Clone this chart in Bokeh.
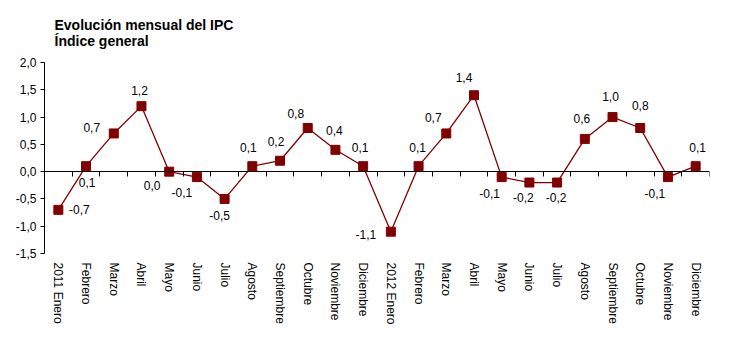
from bokeh.plotting import figure
from bokeh.models import (Range1d, FixedTicker, LinearAxis, CustomJSTickFormatter,
                          ColumnDataSource)
from bokeh.core.properties import value
from bokeh.embed import file_html
from bokeh.resources import INLINE

# ---- data ----
months = ["2011 Enero", "Febrero", "Marzo", "Abril", "Mayo", "Junio", "Julio",
          "Agosto", "Septiembre", "Octubre", "Noviembre", "Diciembre",
          "2012 Enero", "Febrero", "Marzo", "Abril", "Mayo", "Junio", "Julio",
          "Agosto", "Septiembre", "Octubre", "Noviembre", "Diciembre"]
ipc = [-0.7, 0.1, 0.7, 1.2, 0.0, -0.1, -0.5, 0.1, 0.2, 0.8, 0.4, 0.1,
       -1.1, 0.1, 0.7, 1.4, -0.1, -0.2, -0.2, 0.6, 1.0, 0.8, -0.1, 0.1]
y_ticks = [-1.5, -1.0, -0.5, 0.0, 0.5, 1.0, 1.5, 2.0]
title_lines = ["Evolución mensual del IPC", "Índice general"]

# ---- data-label placement (screen px offsets, style only) ----
label_dx = [21, 1, -22, -2, -17, -15, -5, -4, -4, -12, -1, -3,
            -25, -1, -13, -10, -12, -6, -1, -3, -2, 0, -13, 2]
label_dy = [0, 16, -6, -16, 14, 15, 17, -19, -19, -14, -19, -19,
            3, -19, -16, -18, 16, 15, 15, -20, -21, -22, 16, -19]

FONT = "Liberation Sans"
RED = "#800000"

xs = list(range(len(ipc)))
src = ColumnDataSource(dict(
    x=xs, y=ipc,
    lbl=[f"{v:.1f}".replace(".", ",") for v in ipc],
    dx=label_dx, dy=label_dy,
))

p = figure(width=743, height=350, output_backend="svg", toolbar_location=None,
           x_range=Range1d(-0.5, len(ipc) - 0.5), y_range=Range1d(y_ticks[0], y_ticks[-1]),
           min_border_left=44, min_border_right=34, min_border_bottom=97,
           min_border_top=62)
p.outline_line_color = None
p.grid.visible = False
p.background_fill_color = "white"
p.border_fill_color = "white"

# title (two lines)
p.title.text = "\n".join(title_lines)
p.title.align = "left"
p.title.offset = 10
p.title.standoff = 27
p.title.text_font = FONT
p.title.text_font_size = "14px"
p.title.text_font_style = "bold"
p.title.text_color = "#000000"
p.title.text_line_height = 1.0

# y axis
ya = p.yaxis[0]
ya.ticker = FixedTicker(ticks=y_ticks)
ya.formatter = CustomJSTickFormatter(code="return tick.toFixed(1).replace('.', ',');")
ya.major_tick_in = 0
ya.major_tick_out = 4
ya.minor_tick_line_color = None
ya.axis_line_color = "black"
ya.major_tick_line_color = "black"
ya.major_label_text_font = FONT
ya.major_label_text_font_size = "12px"
ya.major_label_text_color = "#000000"
ya.major_label_standoff = 4

# bottom month labels
xa = p.xaxis[0]
xa.ticker = FixedTicker(ticks=xs)
xa.formatter = CustomJSTickFormatter(args=dict(labels=months),
                                     code="return labels[Math.round(tick)] || '';")
xa.major_label_orientation = "vertical"
xa.axis_line_color = None
xa.major_tick_line_color = None
xa.minor_tick_line_color = None
xa.major_tick_in = 0
xa.major_tick_out = 0
xa.major_label_standoff = 9
xa.major_label_text_font = FONT
xa.major_label_text_font_size = "12px"
xa.major_label_text_color = "#000000"

# zero-line axis with category-boundary ticks (no labels)
za = LinearAxis(fixed_location=0,
                ticker=FixedTicker(ticks=[i - 0.5 for i in range(len(ipc) + 1)]),
                formatter=CustomJSTickFormatter(code="return '';"),
                major_label_standoff=0,
                major_tick_in=0, major_tick_out=5,
                minor_tick_line_color=None,
                axis_line_color="black", major_tick_line_color="black")
p.add_layout(za, "below")

# series
p.line("x", "y", source=src, line_color=RED, line_width=1.3)
p.scatter("x", "y", source=src, marker="square", size=9,
          fill_color=RED, line_color=RED)
p.text("x", "y", text="lbl", source=src, x_offset="dx", y_offset="dy",
       text_align="center", text_baseline="middle",
       text_font=value(FONT), text_font_size="12px", text_color="#000000")

open("out.html", "w").write(file_html(p, INLINE))
